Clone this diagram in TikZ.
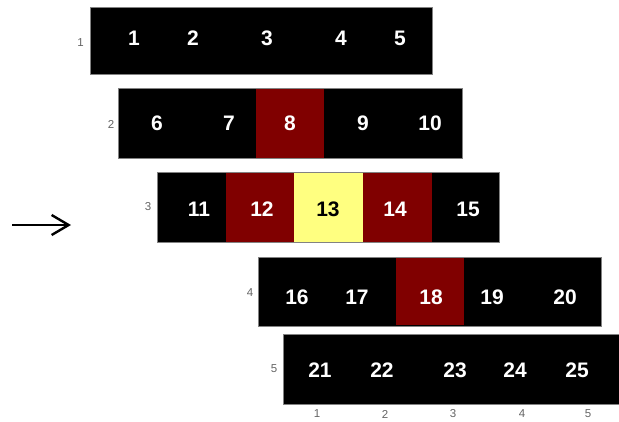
\documentclass[tikz,border=0pt]{standalone}
\usepackage{fontspec}
\setmainfont{Liberation Sans}
\usetikzlibrary{arrows.meta}
\definecolor{cellred}{RGB}{128,0,0}
\definecolor{cellyellow}{RGB}{255,255,128}
\definecolor{framegray}{RGB}{130,130,130}
\definecolor{labelgray}{RGB}{100,100,100}
\tikzset{
  rowbox/.style={draw=framegray, fill=black, line width=0.8pt, inner sep=0pt, outer sep=0pt},
  cellbox/.style={fill=#1, inner sep=0pt, outer sep=0pt, minimum height=69pt},
  num/.style={text=white, font=\fontsize{21}{21}\selectfont\bfseries, inner sep=0pt},
  numdark/.style={num, text=black},
  axislabel/.style={text=labelgray, font=\fontsize{11.5}{11.5}\selectfont, inner sep=0pt},
  pointer/.style={line width=2.4pt, -{Straight Barb[length=17pt,width=20pt,line width=2.4pt]}}
}
\begin{document}
\begin{tikzpicture}[x=1pt,y=-1pt]
\useasboundingbox (0,0) rectangle (619,421);
% row boxes
\node[rowbox, minimum width=342pt, minimum height=67pt] (r1) at (261,40.5) {};
\node[rowbox, minimum width=344pt, minimum height=70pt] (r2) at (290,123) {};
\node[rowbox, minimum width=342pt, minimum height=70pt] (r3) at (328,207) {};
\node[rowbox, minimum width=343pt, minimum height=69pt] (r4) at (429.5,291.5) {};
\node[rowbox, minimum width=341pt, minimum height=70pt] (r5) at (453.5,369) {};
% coloured cells
\node[cellbox=cellred, minimum width=68pt] (c8) at (290,123) {};
\node[cellbox=cellred, minimum width=68pt] (c12) at (260,207) {};
\node[cellbox=cellyellow, minimum width=69pt] (c13) at (328.5,207) {};
\node[cellbox=cellred, minimum width=69pt] (c14) at (397.5,207) {};
\node[cellbox=cellred, minimum width=68pt, minimum height=67pt] (c18) at (430,291.5) {};
% numbers
\foreach \t/\x in {1/134,2/193,3/267,4/341,5/400} \node[num] (n\t) at (\x,38.3) {\t};
\foreach \t/\x in {6/157,7/229,8/290,9/363,10/430} \node[num] (n\t) at (\x,123.5) {\t};
\foreach \t/\x in {11/199,12/262,14/395,15/468} \node[num] (n\t) at (\x,209.5) {\t};
\node[numdark] (n13) at (328,209.5) {13};
\foreach \t/\x in {16/297,17/357,18/431,19/492,20/565} \node[num] (n\t) at (\x,297) {\t};
\foreach \t/\x in {21/320,22/382,23/455,24/515,25/577} \node[num] (n\t) at (\x,370.5) {\t};
% row labels
\node[axislabel] (l1) at (80.5,43) {1};
\node[axislabel] (l2) at (111,124.5) {2};
\node[axislabel] (l3) at (148,207) {3};
\node[axislabel] (l4) at (250,293) {4};
\node[axislabel] (l5) at (274,369) {5};
% column labels
\foreach \t/\x in {1/317,2/385,3/453,4/522,5/588} \node[axislabel] (x\t) at (\x,414) {\t};
% arrow
\coordinate (a1) at (12,225);
\coordinate (a2) at (71,225);
\draw[pointer] (a1) -- (a2);
\end{tikzpicture}
\end{document}
